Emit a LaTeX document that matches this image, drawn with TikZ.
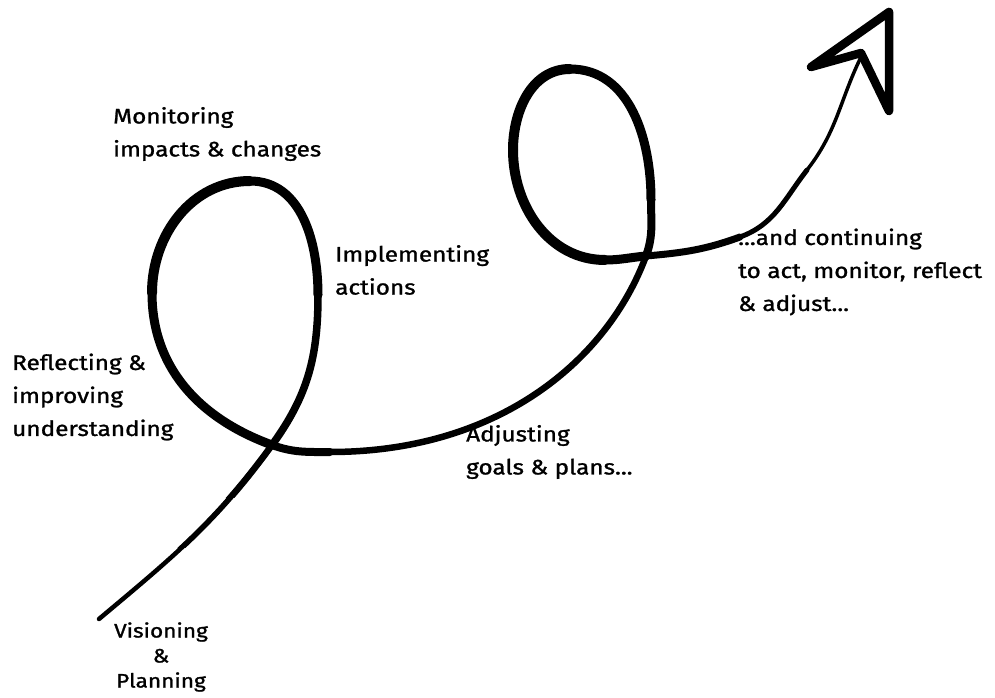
\documentclass[tikz,border=0pt]{standalone}
\usepackage{fontspec}
\setmainfont{Fira Sans}[FakeStretch=1.16, FakeBold=1.2]
\begin{document}
\begin{tikzpicture}[x=1pt,y=1pt,
  curve/.style={line cap=round, line join=round},
  lbl/.style={anchor=west, align=left, inner sep=0pt, font=\fontsize{21}{33}\selectfont},
  lblc/.style={anchor=center, align=center, inner sep=0pt, font=\fontsize{19.5}{25}\selectfont}]
\useasboundingbox (0,0) rectangle (995,697);
% path points
\coordinate (S) at (99,78);
\coordinate (C1) at (272,252);
\coordinate (R1) at (318,402);
\coordinate (T1) at (250,516);
\coordinate (L1) at (152,404);
\coordinate (B1) at (330,245);
\coordinate (K1) at (500,245);
\coordinate (K2) at (608,338);
\coordinate (C2) at (646,441);
\coordinate (R2) at (651,497);
\coordinate (T2) at (570,628);
\coordinate (L2) at (513,547);
\coordinate (B2) at (605,437);
\coordinate (O1) at (740,460);
\coordinate (P1) at (807,527);
\coordinate (E) at (861,640);
% tail, tapering
\draw[curve, line width=4.5] (S) to[out=40,in=234] (C1);
\begin{scope}
  \clip (150,150) rectangle (300,300);
  \draw[curve, line width=5.5] (S) to[out=40,in=234] (C1);
\end{scope}
\begin{scope}
  \clip (215,200) rectangle (300,300);
  \draw[curve, line width=6.5] (S) to[out=40,in=234] (C1);
\end{scope}
% first loop
\draw[curve, line width=7.5] (C1) to[out=54,in=270] (R1);
\draw[curve, line width=9] (R1) to[out=90,in=0] (T1);
\draw[curve, line width=10] (T1) to[out=180,in=90] (L1);
\draw[curve, line width=9] (L1) to[out=270,in=160] (C1);
\draw[curve, line width=8] (C1) to[out=-20,in=180] (B1);
% rising section
\draw[curve, line width=6.5] (B1) .. controls (K1) and (K2) .. (C2);
% second loop
\draw[curve, line width=8] (C2) to[out=70,in=270] (R2);
\draw[curve, line width=9] (R2) to[out=90,in=0] (T2);
\draw[curve, line width=10] (T2) to[out=180,in=90] (L2);
\draw[curve, line width=10] (L2) to[out=270,in=180] (B2);
\draw[curve, line width=9] (B2) to[out=0,in=185] (C2);
% run to the arrow
\draw[curve, line width=7] (C2) to[out=5,in=200] (O1);
\draw[curve, line width=5] (O1) to[out=20,in=232] (P1);
\draw[curve, line width=3.5] (P1) to[out=52,in=244] (E);
% arrowhead
\coordinate (AL) at (811,630);
\coordinate (AT) at (889,685);
\coordinate (AB) at (889,586);
\coordinate (AN) at (861,644);
\draw[curve, line width=8.5] (AL) -- (AT) -- (AB) -- (AN) -- cycle;
% labels
\node[lbl] (mon) at (113,563) {Monitoring\\impacts \& changes};
\node[lbl] (impl) at (335,427) {Implementing\\actions};
\node[lbl] (refl) at (12,300) {Reflecting \&\\improving\\understanding};
\node[lbl] (adj) at (466,245) {Adjusting\\goals \& plans...};
\node[lbl] (cont) at (738,425) {...and continuing\\to act, monitor, reflect\\\& adjust...};
\node[lblc] (vis) at (161,40) {Visioning\\\&\\Planning};
\end{tikzpicture}
\end{document}
